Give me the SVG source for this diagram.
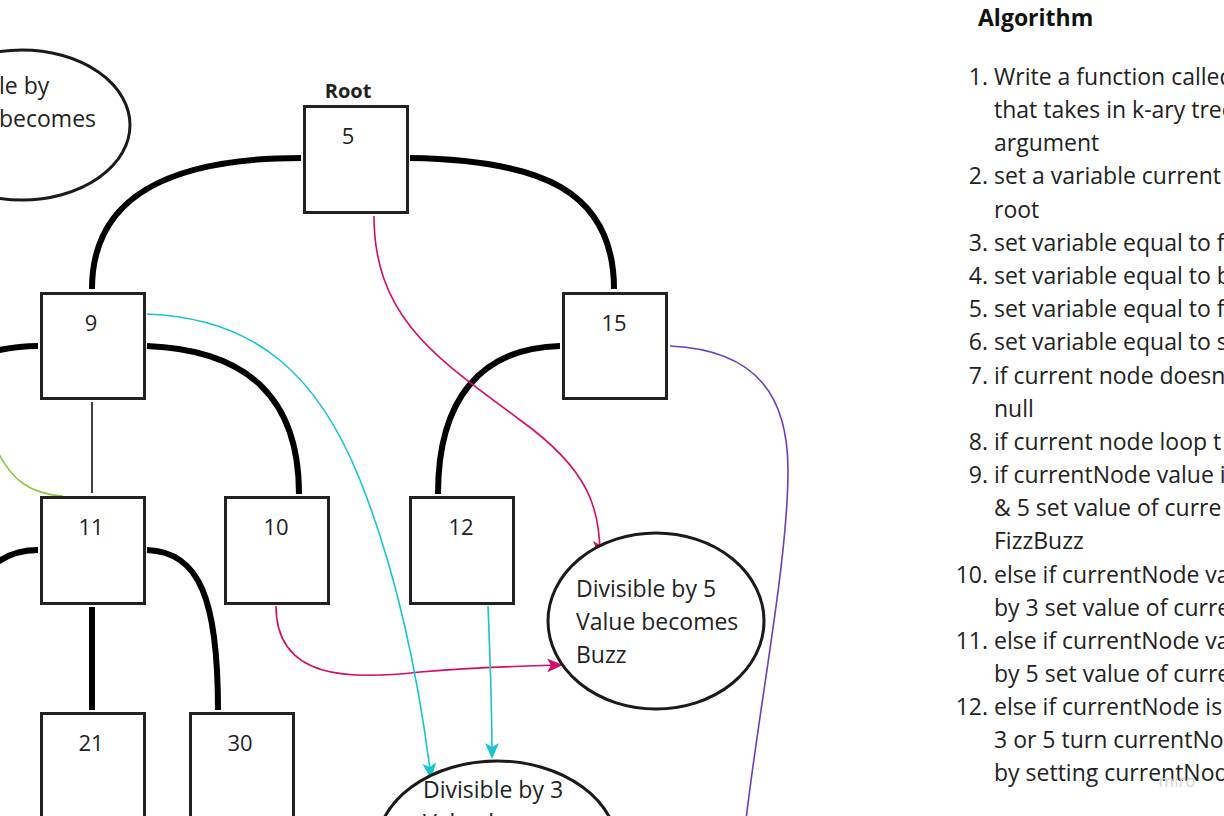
<svg xmlns="http://www.w3.org/2000/svg" width="1224" height="816" viewBox="0 0 1224 816">
<style>
.box{fill:#fff;stroke:#222;stroke-width:3}
.ell{fill:#fff;stroke:#1a1a1a;stroke-width:3}
.lbl{font-family:"Open Sans","Noto Sans",sans-serif;font-size:22px;fill:#222}
.etx{font-family:"Open Sans","Noto Sans",sans-serif;font-size:23px;fill:#222}
.thick{fill:none;stroke:#000;stroke-width:6}
.thin{fill:none;stroke-width:1.6}
.alg{font-family:"Open Sans","Noto Sans",sans-serif;font-size:23px;fill:#222}
.num{text-anchor:end}
</style>
<defs>
<marker id="am" markerUnits="userSpaceOnUse" markerWidth="16" markerHeight="14" refX="14" refY="7" orient="auto"><path d="M0,0 L16,7 L0,14 L4,7 Z" fill="#d40c68"/></marker>
<marker id="ac" markerUnits="userSpaceOnUse" markerWidth="16" markerHeight="14" refX="14" refY="7" orient="auto"><path d="M0,0 L16,7 L0,14 L4,7 Z" fill="#17c5cf"/></marker>
</defs>
<rect width="1224" height="816" fill="#fff"/>
<g id="connectors">
<path class="thick" d="M301,158 C180,158 92,190 92,289"/>
<path class="thick" d="M410,158 C540,160 614,190 614,289"/>
<path class="thick" d="M38,346 C20,346 8,348 -5,351"/>
<path class="thick" d="M147,346 C250,350 299,400 299,494"/>
<path class="thick" d="M560,346 C480,348 438,400 438,494"/>
<path class="thick" d="M38,550 C22,550 8,554 -5,564"/>
<path class="thick" d="M147,550 C200,552 218,600 218,710"/>
<path class="thick" d="M92,607 L92,710"/>
<path fill="none" stroke="#000" stroke-width="1.5" d="M92,402 L92,493"/>
<path class="thin" stroke="#8dc63f" d="M-2,452 C12,480 30,494 63,496"/>
<path class="thin" stroke="#d40c68" marker-end="url(#am)" d="M374,216 C374,320 440,360 520,420 C590,470 600,510 600,555"/>
<path class="thin" stroke="#d40c68" marker-end="url(#am)" d="M276,606 C276,680 350,680 420,672 C480,667 520,666 561,665"/>
<path class="thin" stroke="#17c5cf" marker-end="url(#ac)" d="M147,314 C260,318 320,380 360,480 C400,580 420,690 431,777"/>
<path class="thin" stroke="#17c5cf" marker-end="url(#ac)" d="M488,606 C490,660 492,700 492,757"/>
<path class="thin" stroke="#6b3fb5" d="M670,346 C760,350 788,400 788,470 C788,560 760,700 746,820"/>
</g>
<g id="ellipse-left"><ellipse class="ell" cx="22" cy="125" rx="108" ry="75"/>
<text class="etx" x="-1" y="94">le by</text><text class="etx" x="-1" y="127">becomes</text></g>
<g id="node-root"><text x="348" y="98" text-anchor="middle" style="font-family:'Open Sans','Noto Sans',sans-serif;font-size:20px;font-weight:bold;fill:#222">Root</text>
<rect class="box" x="304.5" y="106.5" width="103" height="106"/><text class="lbl" x="348" y="144" text-anchor="middle">5</text></g>
<g id="node-9"><rect class="box" x="41.5" y="293.5" width="103" height="105"/><text class="lbl" x="91" y="331" text-anchor="middle">9</text></g>
<g id="node-15"><rect class="box" x="563.5" y="293.5" width="103" height="105"/><text class="lbl" x="614" y="331" text-anchor="middle">15</text></g>
<g id="node-11"><rect class="box" x="41.5" y="497.5" width="103" height="106"/><text class="lbl" x="91" y="535" text-anchor="middle">11</text></g>
<g id="node-10"><rect class="box" x="225.5" y="497.5" width="103" height="106"/><text class="lbl" x="276" y="535" text-anchor="middle">10</text></g>
<g id="node-12"><rect class="box" x="410.5" y="497.5" width="103" height="106"/><text class="lbl" x="461" y="535" text-anchor="middle">12</text></g>
<g id="node-21"><rect class="box" x="41.5" y="713.5" width="103" height="120"/><text class="lbl" x="91" y="751" text-anchor="middle">21</text></g>
<g id="node-30"><rect class="box" x="190.5" y="713.5" width="103" height="120"/><text class="lbl" x="240" y="751" text-anchor="middle">30</text></g>
<g id="ellipse-buzz"><ellipse class="ell" cx="656" cy="621" rx="108" ry="88"/>
<text class="etx" x="576" y="597">Divisible by 5</text><text class="etx" x="576" y="630">Value becomes</text><text class="etx" x="576" y="663">Buzz</text></g>
<g id="ellipse-fizz"><ellipse class="ell" cx="497" cy="850" rx="121" ry="89"/>
<text class="etx" x="423" y="798">Divisible by 3</text><text class="etx" x="423" y="831">Value becomes</text></g>
<g id="algorithm">
<text x="978" y="26" style="font-family:'Open Sans','Noto Sans',sans-serif;font-size:23px;font-weight:bold;fill:#111">Algorithm</text>
<g class="alg">
<text class="num" x="988" y="85">1.</text><text x="994" y="85">Write a function called</text>
<text x="994" y="118">that takes in k-ary tree</text>
<text x="994" y="151">argument</text>
<text class="num" x="988" y="184">2.</text><text x="994" y="184">set a variable current</text>
<text x="994" y="218">root</text>
<text class="num" x="988" y="251">3.</text><text x="994" y="251">set variable equal to f</text>
<text class="num" x="988" y="284">4.</text><text x="994" y="284">set variable equal to b</text>
<text class="num" x="988" y="317">5.</text><text x="994" y="317">set variable equal to f</text>
<text class="num" x="988" y="350">6.</text><text x="994" y="350">set variable equal to s</text>
<text class="num" x="988" y="384">7.</text><text x="994" y="384">if current node doesn</text>
<text x="994" y="417">null</text>
<text class="num" x="988" y="450">8.</text><text x="994" y="450">if current node loop t</text>
<text class="num" x="988" y="483">9.</text><text x="994" y="483">if currentNode value i</text>
<text x="994" y="516">&amp; 5 set value of curre</text>
<text x="994" y="549">FizzBuzz</text>
<text class="num" x="988" y="583">10.</text><text x="994" y="583">else if currentNode va</text>
<text x="994" y="616">by 3 set value of curre</text>
<text class="num" x="988" y="649">11.</text><text x="994" y="649">else if currentNode va</text>
<text x="994" y="682">by 5 set value of curre</text>
<text class="num" x="988" y="715">12.</text><text x="994" y="715">else if currentNode is</text>
<text x="994" y="748">3 or 5 turn currentNo</text>
<text x="994" y="781">by setting currentNod</text>
</g>
<text x="1177" y="787" text-anchor="middle" style="font-family:'Open Sans','Noto Sans',sans-serif;font-size:17px;fill:#d4d4d4">miro</text>
</g>
</svg>
